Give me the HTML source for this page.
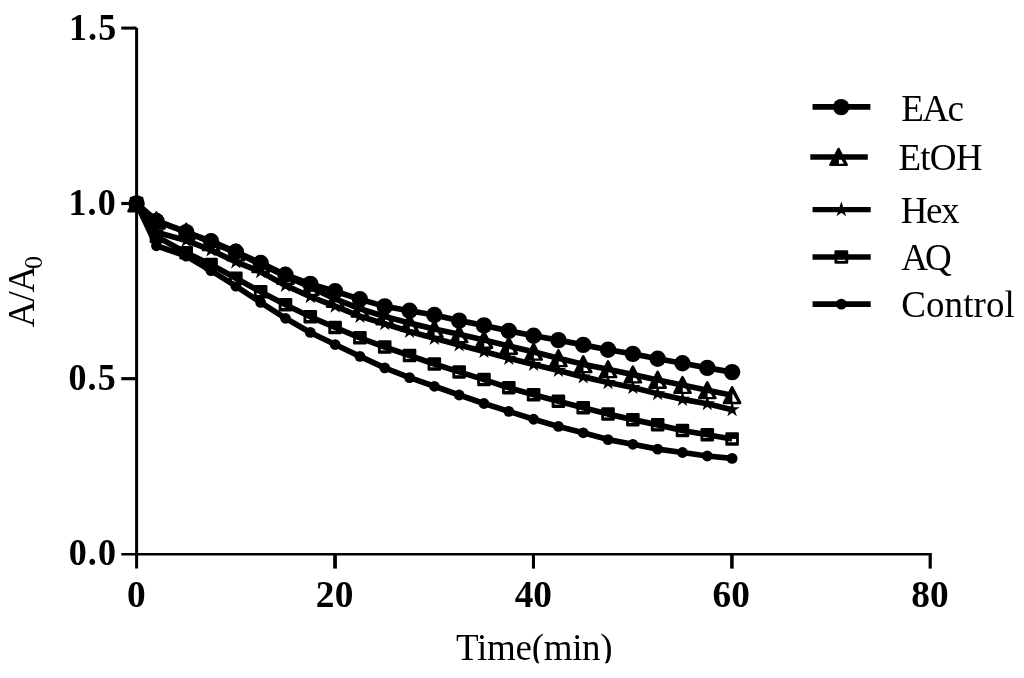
<!DOCTYPE html>
<html lang="en">
<head>
<meta charset="utf-8">
<title>A/A0 vs Time</title>
<style>
html,body{margin:0;padding:0;background:#fff;}
body{width:1024px;height:678px;overflow:hidden;}
svg{display:block;}
svg text{font-family:"Liberation Serif", "Times New Roman", Times, serif;}
</style>
</head>
<body>
<svg width="1024" height="678" viewBox="0 0 1024 678">
<rect width="1024" height="678" fill="#fff"/>
<g><circle cx="136.6" cy="203.53" r="5.4"/>
<circle cx="156.45" cy="245.79" r="5.4"/>
<circle cx="186.22" cy="256.06" r="5.4"/>
<circle cx="211.04" cy="270.68" r="5.4"/>
<circle cx="235.85" cy="286.11" r="5.4"/>
<circle cx="260.66" cy="302.45" r="5.4"/>
<circle cx="285.48" cy="318.3" r="5.4"/>
<circle cx="310.29" cy="332.44" r="5.4"/>
<circle cx="335.1" cy="344.53" r="5.4"/>
<circle cx="359.91" cy="356.35" r="5.4"/>
<circle cx="384.73" cy="367.82" r="5.4"/>
<circle cx="409.54" cy="377.57" r="5.4"/>
<circle cx="434.35" cy="386.3" r="5.4"/>
<circle cx="459.16" cy="395" r="5.4"/>
<circle cx="483.98" cy="403.52" r="5.4"/>
<circle cx="508.79" cy="411.37" r="5.4"/>
<circle cx="533.6" cy="419.23" r="5.4"/>
<circle cx="558.41" cy="426.42" r="5.4"/>
<circle cx="583.23" cy="432.8" r="5.4"/>
<circle cx="608.04" cy="439.6" r="5.4"/>
<circle cx="632.85" cy="444.3" r="5.4"/>
<circle cx="657.66" cy="449.14" r="5.4"/>
<circle cx="682.48" cy="452.51" r="5.4"/>
<circle cx="707.29" cy="456.01" r="5.4"/>
<circle cx="732.1" cy="458.4" r="5.4"/></g>
<g><rect x="129.8" y="196.78" width="13.6" height="13.5" rx="1.3" fill="#000"/>
<rect x="132.65" y="203.53" width="7.9" height="3.3" fill="#fff"/>
<rect x="149.65" y="229.74" width="13.6" height="13.5" rx="1.3" fill="#000"/>
<rect x="152.5" y="236.49" width="7.9" height="3.3" fill="#fff"/>
<rect x="179.42" y="246.05" width="13.6" height="13.5" rx="1.3" fill="#000"/>
<rect x="182.27" y="252.8" width="7.9" height="3.3" fill="#fff"/>
<rect x="204.24" y="257.8" width="13.6" height="13.5" rx="1.3" fill="#000"/>
<rect x="207.09" y="264.55" width="7.9" height="3.3" fill="#fff"/>
<rect x="229.05" y="271.51" width="13.6" height="13.5" rx="1.3" fill="#000"/>
<rect x="231.9" y="278.26" width="7.9" height="3.3" fill="#fff"/>
<rect x="253.86" y="284.94" width="13.6" height="13.5" rx="1.3" fill="#000"/>
<rect x="256.71" y="291.69" width="7.9" height="3.3" fill="#fff"/>
<rect x="278.68" y="297.95" width="13.6" height="13.5" rx="1.3" fill="#000"/>
<rect x="281.53" y="304.7" width="7.9" height="3.3" fill="#fff"/>
<rect x="303.49" y="310.01" width="13.6" height="13.5" rx="1.3" fill="#000"/>
<rect x="306.34" y="316.76" width="7.9" height="3.3" fill="#fff"/>
<rect x="328.3" y="320.71" width="13.6" height="13.5" rx="1.3" fill="#000"/>
<rect x="331.15" y="327.46" width="7.9" height="3.3" fill="#fff"/>
<rect x="353.11" y="331.05" width="13.6" height="13.5" rx="1.3" fill="#000"/>
<rect x="355.96" y="337.8" width="7.9" height="3.3" fill="#fff"/>
<rect x="377.93" y="340.27" width="13.6" height="13.5" rx="1.3" fill="#000"/>
<rect x="380.78" y="347.02" width="7.9" height="3.3" fill="#fff"/>
<rect x="402.74" y="348.73" width="13.6" height="13.5" rx="1.3" fill="#000"/>
<rect x="405.59" y="355.48" width="7.9" height="3.3" fill="#fff"/>
<rect x="427.55" y="357.21" width="13.6" height="13.5" rx="1.3" fill="#000"/>
<rect x="430.4" y="363.96" width="7.9" height="3.3" fill="#fff"/>
<rect x="452.36" y="365.14" width="13.6" height="13.5" rx="1.3" fill="#000"/>
<rect x="455.21" y="371.89" width="7.9" height="3.3" fill="#fff"/>
<rect x="477.18" y="372.85" width="13.6" height="13.5" rx="1.3" fill="#000"/>
<rect x="480.03" y="379.6" width="7.9" height="3.3" fill="#fff"/>
<rect x="501.99" y="380.92" width="13.6" height="13.5" rx="1.3" fill="#000"/>
<rect x="504.84" y="387.67" width="7.9" height="3.3" fill="#fff"/>
<rect x="526.8" y="387.93" width="13.6" height="13.5" rx="1.3" fill="#000"/>
<rect x="529.65" y="394.68" width="7.9" height="3.3" fill="#fff"/>
<rect x="551.61" y="394.56" width="13.6" height="13.5" rx="1.3" fill="#000"/>
<rect x="554.46" y="401.31" width="7.9" height="3.3" fill="#fff"/>
<rect x="576.43" y="401.01" width="13.6" height="13.5" rx="1.3" fill="#000"/>
<rect x="579.28" y="407.76" width="7.9" height="3.3" fill="#fff"/>
<rect x="601.24" y="407.36" width="13.6" height="13.5" rx="1.3" fill="#000"/>
<rect x="604.09" y="414.11" width="7.9" height="3.3" fill="#fff"/>
<rect x="626.05" y="412.9" width="13.6" height="13.5" rx="1.3" fill="#000"/>
<rect x="628.9" y="419.65" width="7.9" height="3.3" fill="#fff"/>
<rect x="650.86" y="418.12" width="13.6" height="13.5" rx="1.3" fill="#000"/>
<rect x="653.71" y="424.87" width="7.9" height="3.3" fill="#fff"/>
<rect x="675.68" y="423.77" width="13.6" height="13.5" rx="1.3" fill="#000"/>
<rect x="678.53" y="430.52" width="7.9" height="3.3" fill="#fff"/>
<rect x="700.49" y="427.94" width="13.6" height="13.5" rx="1.3" fill="#000"/>
<rect x="703.34" y="434.69" width="7.9" height="3.3" fill="#fff"/>
<rect x="725.3" y="432.22" width="13.6" height="13.5" rx="1.3" fill="#000"/>
<rect x="728.15" y="438.97" width="7.9" height="3.3" fill="#fff"/></g>
<g><polygon points="136.6,195.43 138.42,201.03 144.3,201.03 139.54,204.49 141.36,210.08 136.6,206.62 131.84,210.08 133.66,204.49 128.9,201.03 134.78,201.03"/>
<polygon points="156.45,224.18 158.27,229.78 164.15,229.78 159.39,233.24 161.21,238.84 156.45,235.38 151.69,238.84 153.51,233.24 148.75,229.78 154.63,229.78"/>
<polygon points="186.22,232.43 188.04,238.02 193.93,238.02 189.17,241.48 190.99,247.08 186.22,243.62 181.46,247.08 183.28,241.48 178.52,238.02 184.41,238.02"/>
<polygon points="211.04,241.96 212.86,247.56 218.74,247.56 213.98,251.02 215.8,256.62 211.04,253.16 206.28,256.62 208.09,251.02 203.33,247.56 209.22,247.56"/>
<polygon points="235.85,253.78 237.67,259.38 243.55,259.38 238.79,262.84 240.61,268.43 235.85,264.98 231.09,268.43 232.91,262.84 228.15,259.38 234.03,259.38"/>
<polygon points="260.66,263.67 262.48,269.27 268.37,269.27 263.61,272.73 265.42,278.32 260.66,274.86 255.9,278.32 257.72,272.73 252.96,269.27 258.84,269.27"/>
<polygon points="285.48,277.28 287.29,282.87 293.18,282.87 288.42,286.33 290.24,291.93 285.48,288.47 280.71,291.93 282.53,286.33 277.77,282.87 283.66,282.87"/>
<polygon points="310.29,288.5 312.11,294.09 317.99,294.09 313.23,297.55 315.05,303.15 310.29,299.69 305.53,303.15 307.34,297.55 302.58,294.09 308.47,294.09"/>
<polygon points="335.1,298.07 336.92,303.67 342.8,303.67 338.04,307.13 339.86,312.72 335.1,309.27 330.34,312.72 332.16,307.13 327.4,303.67 333.28,303.67"/>
<polygon points="359.91,308.24 361.73,313.84 367.62,313.84 362.86,317.3 364.67,322.89 359.91,319.43 355.15,322.89 356.97,317.3 352.21,313.84 358.09,313.84"/>
<polygon points="384.73,315.64 386.54,321.24 392.43,321.24 387.67,324.7 389.49,330.29 384.73,326.83 379.96,330.29 381.78,324.7 377.02,321.24 382.91,321.24"/>
<polygon points="409.54,323.42 411.36,329.02 417.24,329.02 412.48,332.48 414.3,338.08 409.54,334.62 404.78,338.08 406.59,332.48 401.83,329.02 407.72,329.02"/>
<polygon points="434.35,330.23 436.17,335.82 442.05,335.82 437.29,339.28 439.11,344.88 434.35,341.42 429.59,344.88 431.41,339.28 426.65,335.82 432.53,335.82"/>
<polygon points="459.16,336.82 460.98,342.42 466.87,342.42 462.11,345.88 463.92,351.47 459.16,348.01 454.4,351.47 456.22,345.88 451.46,342.42 457.34,342.42"/>
<polygon points="483.98,343.45 485.79,349.04 491.68,349.04 486.92,352.5 488.74,358.1 483.98,354.64 479.21,358.1 481.03,352.5 476.27,349.04 482.16,349.04"/>
<polygon points="508.79,350.25 510.61,355.85 516.49,355.85 511.73,359.31 513.55,364.9 508.79,361.45 504.03,364.9 505.84,359.31 501.08,355.85 506.97,355.85"/>
<polygon points="533.6,356.42 535.42,362.02 541.3,362.02 536.54,365.48 538.36,371.08 533.6,367.62 528.84,371.08 530.66,365.48 525.9,362.02 531.78,362.02"/>
<polygon points="558.41,362.31 560.23,367.91 566.12,367.91 561.36,371.37 563.17,376.97 558.41,373.51 553.65,376.97 555.47,371.37 550.71,367.91 556.59,367.91"/>
<polygon points="583.23,368.8 585.04,374.4 590.93,374.4 586.17,377.86 587.99,383.45 583.23,380 578.46,383.45 580.28,377.86 575.52,374.4 581.41,374.4"/>
<polygon points="608.04,374.48 609.86,380.08 615.74,380.08 610.98,383.54 612.8,389.14 608.04,385.68 603.28,389.14 605.09,383.54 600.33,380.08 606.22,380.08"/>
<polygon points="632.85,379.46 634.67,385.06 640.55,385.06 635.79,388.52 637.61,394.11 632.85,390.66 628.09,394.11 629.91,388.52 625.15,385.06 631.03,385.06"/>
<polygon points="657.66,385.56 659.48,391.16 665.37,391.16 660.61,394.62 662.42,400.22 657.66,396.76 652.9,400.22 654.72,394.62 649.96,391.16 655.84,391.16"/>
<polygon points="682.48,391.24 684.29,396.84 690.18,396.84 685.42,400.3 687.24,405.9 682.48,402.44 677.71,405.9 679.53,400.3 674.77,396.84 680.66,396.84"/>
<polygon points="707.29,395.66 709.11,401.26 714.99,401.26 710.23,404.72 712.05,410.32 707.29,406.86 702.53,410.32 704.34,404.72 699.58,401.26 705.47,401.26"/>
<polygon points="732.1,401.55 733.92,407.15 739.8,407.15 735.04,410.61 736.86,416.21 732.1,412.75 727.34,416.21 729.16,410.61 724.4,407.15 730.28,407.15"/></g>
<g><polygon points="136.6,195.53 144.7,211.23 128.5,211.23" fill="#000" stroke="#000" stroke-width="2.6" stroke-linejoin="round"/>
<polygon points="136.9,201.33 141.8,210.13 136.9,210.13" fill="#fff"/>
<polygon points="156.45,212.71 164.55,228.41 148.35,228.41" fill="#000" stroke="#000" stroke-width="2.6" stroke-linejoin="round"/>
<polygon points="156.75,218.51 161.65,227.31 156.75,227.31" fill="#fff"/>
<polygon points="186.22,223.93 194.32,239.63 178.12,239.63" fill="#000" stroke="#000" stroke-width="2.6" stroke-linejoin="round"/>
<polygon points="186.53,229.73 191.42,238.53 186.53,238.53" fill="#fff"/>
<polygon points="211.04,234.35 219.14,250.05 202.94,250.05" fill="#000" stroke="#000" stroke-width="2.6" stroke-linejoin="round"/>
<polygon points="211.34,240.15 216.24,248.95 211.34,248.95" fill="#fff"/>
<polygon points="235.85,244.62 243.95,260.32 227.75,260.32" fill="#000" stroke="#000" stroke-width="2.6" stroke-linejoin="round"/>
<polygon points="236.15,250.42 241.05,259.22 236.15,259.22" fill="#fff"/>
<polygon points="260.66,256.3 268.76,272 252.56,272" fill="#000" stroke="#000" stroke-width="2.6" stroke-linejoin="round"/>
<polygon points="260.96,262.1 265.86,270.9 260.96,270.9" fill="#fff"/>
<polygon points="285.48,267.91 293.58,283.61 277.38,283.61" fill="#000" stroke="#000" stroke-width="2.6" stroke-linejoin="round"/>
<polygon points="285.78,273.71 290.68,282.51 285.78,282.51" fill="#fff"/>
<polygon points="310.29,279.09 318.39,294.79 302.19,294.79" fill="#000" stroke="#000" stroke-width="2.6" stroke-linejoin="round"/>
<polygon points="310.59,284.89 315.49,293.69 310.59,293.69" fill="#fff"/>
<polygon points="335.1,290.91 343.2,306.61 327,306.61" fill="#000" stroke="#000" stroke-width="2.6" stroke-linejoin="round"/>
<polygon points="335.4,296.71 340.3,305.51 335.4,305.51" fill="#fff"/>
<polygon points="359.91,300.73 368.01,316.43 351.81,316.43" fill="#000" stroke="#000" stroke-width="2.6" stroke-linejoin="round"/>
<polygon points="360.21,306.53 365.11,315.33 360.21,315.33" fill="#fff"/>
<polygon points="384.73,308.45 392.83,324.15 376.62,324.15" fill="#000" stroke="#000" stroke-width="2.6" stroke-linejoin="round"/>
<polygon points="385.03,314.25 389.93,323.05 385.03,323.05" fill="#fff"/>
<polygon points="409.54,315.11 417.64,330.81 401.44,330.81" fill="#000" stroke="#000" stroke-width="2.6" stroke-linejoin="round"/>
<polygon points="409.84,320.91 414.74,329.71 409.84,329.71" fill="#fff"/>
<polygon points="434.35,321.07 442.45,336.77 426.25,336.77" fill="#000" stroke="#000" stroke-width="2.6" stroke-linejoin="round"/>
<polygon points="434.65,326.87 439.55,335.67 434.65,335.67" fill="#fff"/>
<polygon points="459.16,326.33 467.26,342.03 451.06,342.03" fill="#000" stroke="#000" stroke-width="2.6" stroke-linejoin="round"/>
<polygon points="459.46,332.13 464.36,340.93 459.46,340.93" fill="#fff"/>
<polygon points="483.98,331.94 492.08,347.64 475.88,347.64" fill="#000" stroke="#000" stroke-width="2.6" stroke-linejoin="round"/>
<polygon points="484.28,337.74 489.18,346.54 484.28,346.54" fill="#fff"/>
<polygon points="508.79,337.9 516.89,353.6 500.69,353.6" fill="#000" stroke="#000" stroke-width="2.6" stroke-linejoin="round"/>
<polygon points="509.09,343.7 513.99,352.5 509.09,352.5" fill="#fff"/>
<polygon points="533.6,343.86 541.7,359.56 525.5,359.56" fill="#000" stroke="#000" stroke-width="2.6" stroke-linejoin="round"/>
<polygon points="533.9,349.66 538.8,358.46 533.9,358.46" fill="#fff"/>
<polygon points="558.41,350.28 566.51,365.98 550.31,365.98" fill="#000" stroke="#000" stroke-width="2.6" stroke-linejoin="round"/>
<polygon points="558.71,356.08 563.61,364.88 558.71,364.88" fill="#fff"/>
<polygon points="583.23,356.35 591.33,372.05 575.12,372.05" fill="#000" stroke="#000" stroke-width="2.6" stroke-linejoin="round"/>
<polygon points="583.52,362.15 588.43,370.95 583.52,370.95" fill="#fff"/>
<polygon points="608.04,361.29 616.14,376.99 599.94,376.99" fill="#000" stroke="#000" stroke-width="2.6" stroke-linejoin="round"/>
<polygon points="608.34,367.09 613.24,375.89 608.34,375.89" fill="#fff"/>
<polygon points="632.85,366.62 640.95,382.32 624.75,382.32" fill="#000" stroke="#000" stroke-width="2.6" stroke-linejoin="round"/>
<polygon points="633.15,372.42 638.05,381.22 633.15,381.22" fill="#fff"/>
<polygon points="657.66,371.95 665.76,387.65 649.56,387.65" fill="#000" stroke="#000" stroke-width="2.6" stroke-linejoin="round"/>
<polygon points="657.96,377.75 662.86,386.55 657.96,386.55" fill="#fff"/>
<polygon points="682.48,377.07 690.58,392.77 674.38,392.77" fill="#000" stroke="#000" stroke-width="2.6" stroke-linejoin="round"/>
<polygon points="682.77,382.87 687.68,391.67 682.77,391.67" fill="#fff"/>
<polygon points="707.29,382.3 715.39,398 699.19,398" fill="#000" stroke="#000" stroke-width="2.6" stroke-linejoin="round"/>
<polygon points="707.59,388.1 712.49,396.9 707.59,396.9" fill="#fff"/>
<polygon points="732.1,387.24 740.2,402.94 724,402.94" fill="#000" stroke="#000" stroke-width="2.6" stroke-linejoin="round"/>
<polygon points="732.4,393.04 737.3,401.84 732.4,401.84" fill="#fff"/></g>
<g><circle cx="136.6" cy="203.53" r="8.2"/>
<circle cx="156.45" cy="221.06" r="8.2"/>
<circle cx="186.22" cy="232.11" r="8.2"/>
<circle cx="211.04" cy="241.19" r="8.2"/>
<circle cx="235.85" cy="251.75" r="8.2"/>
<circle cx="260.66" cy="262.97" r="8.2"/>
<circle cx="285.48" cy="274.72" r="8.2"/>
<circle cx="310.29" cy="283.9" r="8.2"/>
<circle cx="335.1" cy="291.2" r="8.2"/>
<circle cx="359.91" cy="299.26" r="8.2"/>
<circle cx="384.73" cy="306.38" r="8.2"/>
<circle cx="409.54" cy="310.76" r="8.2"/>
<circle cx="434.35" cy="315.04" r="8.2"/>
<circle cx="459.16" cy="320.65" r="8.2"/>
<circle cx="483.98" cy="325.42" r="8.2"/>
<circle cx="508.79" cy="330.89" r="8.2"/>
<circle cx="533.6" cy="335.77" r="8.2"/>
<circle cx="558.41" cy="340.12" r="8.2"/>
<circle cx="583.23" cy="344.92" r="8.2"/>
<circle cx="608.04" cy="349.69" r="8.2"/>
<circle cx="632.85" cy="353.86" r="8.2"/>
<circle cx="657.66" cy="358.7" r="8.2"/>
<circle cx="682.48" cy="363.23" r="8.2"/>
<circle cx="707.29" cy="367.89" r="8.2"/>
<circle cx="732.1" cy="372.13" r="8.2"/></g>
<polyline fill="none" stroke="#000" stroke-width="5.7" stroke-linejoin="round" points="136.6,203.53 156.45,245.79 186.22,256.06 211.04,270.68 235.85,286.11 260.66,302.45 285.48,318.3 310.29,332.44 335.1,344.53 359.91,356.35 384.73,367.82 409.54,377.57 434.35,386.3 459.16,395 483.98,403.52 508.79,411.37 533.6,419.23 558.41,426.42 583.23,432.8 608.04,439.6 632.85,444.3 657.66,449.14 682.48,452.51 707.29,456.01 732.1,458.4"/>
<polyline fill="none" stroke="#000" stroke-width="5.7" stroke-linejoin="round" points="136.6,203.53 156.45,236.49 186.22,252.8 211.04,264.55 235.85,278.26 260.66,291.69 285.48,304.7 310.29,316.76 335.1,327.46 359.91,337.8 384.73,347.02 409.54,355.48 434.35,363.96 459.16,371.89 483.98,379.6 508.79,387.67 533.6,394.68 558.41,401.31 583.23,407.76 608.04,414.11 632.85,419.65 657.66,424.87 682.48,430.52 707.29,434.69 732.1,438.97"/>
<polyline fill="none" stroke="#000" stroke-width="5.7" stroke-linejoin="round" points="136.6,203.53 156.45,232.28 186.22,240.53 211.04,250.06 235.85,261.88 260.66,271.77 285.48,285.38 310.29,296.6 335.1,306.17 359.91,316.34 384.73,323.74 409.54,331.52 434.35,338.33 459.16,344.92 483.98,351.55 508.79,358.35 533.6,364.52 558.41,370.41 583.23,376.9 608.04,382.58 632.85,387.56 657.66,393.66 682.48,399.34 707.29,403.76 732.1,409.65"/>
<polyline fill="none" stroke="#000" stroke-width="5.7" stroke-linejoin="round" points="136.6,203.53 156.45,220.71 186.22,231.93 211.04,242.35 235.85,252.62 260.66,264.3 285.48,275.91 310.29,287.09 335.1,298.91 359.91,308.73 384.73,316.45 409.54,323.11 434.35,329.07 459.16,334.33 483.98,339.94 508.79,345.9 533.6,351.86 558.41,358.28 583.23,364.35 608.04,369.29 632.85,374.62 657.66,379.95 682.48,385.07 707.29,390.3 732.1,395.24"/>
<polyline fill="none" stroke="#000" stroke-width="5.7" stroke-linejoin="round" points="136.6,203.53 156.45,221.06 186.22,232.11 211.04,241.19 235.85,251.75 260.66,262.97 285.48,274.72 310.29,283.9 335.1,291.2 359.91,299.26 384.73,306.38 409.54,310.76 434.35,315.04 459.16,320.65 483.98,325.42 508.79,330.89 533.6,335.77 558.41,340.12 583.23,344.92 608.04,349.69 632.85,353.86 657.66,358.7 682.48,363.23 707.29,367.89 732.1,372.13"/>
<g stroke="#000" fill="none" stroke-linecap="butt">
<path d="M136.6 27.9 V568.6" stroke-width="3"/>
<path d="M121.3 554.14 H931.8" stroke-width="2.5"/>
<path d="M121.3 28.08 H136.6" stroke-width="3.1"/>
<path d="M121.3 203.5 H136.6" stroke-width="3.2"/>
<path d="M121.3 378.67 H136.6" stroke-width="3.2"/>
<path d="M335.03 554.14 V568.6" stroke-width="3.75"/>
<path d="M533.45 554.14 V568.6" stroke-width="3.1"/>
<path d="M731.9 554.14 V568.6" stroke-width="3.6"/>
<path d="M930.2 554.14 V568.6" stroke-width="3.2"/>
</g>
<g font-family="'Liberation Serif', serif" font-weight="bold" fill="#000">
<text transform="translate(117.05 564.94) scale(0.95 1)" font-size="37.9" letter-spacing="1.2" text-anchor="end">0.0</text>
<text transform="translate(116.85 389.67) scale(0.95 1)" font-size="37.9" letter-spacing="1.2" text-anchor="end">0.5</text>
<text transform="translate(116.85 214.5) scale(0.95 1)" font-size="37.9" letter-spacing="1.2" text-anchor="end">1.0</text>
<text transform="translate(117.35 39.63) scale(0.95 1)" font-size="37.9" letter-spacing="1.2" text-anchor="end">1.5</text>
<text transform="translate(136.4 607.4) scale(0.96 1)" font-size="38.9" text-anchor="middle" letter-spacing="0">0</text>
<text transform="translate(334.69 607.4) scale(0.96 1)" font-size="38.9" text-anchor="middle" letter-spacing="0.3">20</text>
<text transform="translate(533.14 607.4) scale(0.96 1)" font-size="38.9" text-anchor="middle" letter-spacing="-0.3">40</text>
<text transform="translate(731.2 607.4) scale(0.96 1)" font-size="38.9" text-anchor="middle" letter-spacing="0">60</text>
<text transform="translate(929.9 607.4) scale(0.96 1)" font-size="38.9" text-anchor="middle" letter-spacing="0">80</text>
</g>
<g font-family="'Liberation Serif', serif" font-size="37" fill="#000">
<clipPath id="xtclip"><rect x="430" y="620" width="220" height="43.2"/></clipPath>
<text x="534.2" y="660.4" text-anchor="middle" letter-spacing="-0.3" clip-path="url(#xtclip)">Time(min)</text>
<text transform="translate(33.65 291.5) rotate(-90)"><tspan x="-35.65">A</tspan><tspan x="-10.1">/</tspan><tspan x="-1.1">A</tspan><tspan x="22.6" font-size="26" dy="8">0</tspan></text>
<text x="901.3" y="120.65" letter-spacing="-1.6">EAc</text>
<text x="898.5" y="170.35" letter-spacing="-0.8">EtOH</text>
<text x="900.8" y="222.65" letter-spacing="-1.45">Hex</text>
<text x="901.3" y="270.25" letter-spacing="-3">AQ</text>
<text x="901.2" y="317.35" letter-spacing="0.1">Control</text>
</g>
<path d="M812.55 106.9 H870.4" stroke="#000" stroke-width="5.8" fill="none"/>
<circle cx="841.17" cy="107.1" r="8.2"/>
<polygon points="838.55,149.03 846.65,164.73 830.45,164.73" fill="#000" stroke="#000" stroke-width="2.6" stroke-linejoin="round"/>
<polygon points="838.85,154.83 843.75,163.63 838.85,163.63" fill="#fff"/>
<path d="M810.3 157.03 H867.8" stroke="#000" stroke-width="5.55" fill="none"/>
<path d="M812.55 209.58 H870.7" stroke="#000" stroke-width="5.15" fill="none"/>
<polygon points="841.33,201.48 843.14,207.08 849.03,207.08 844.27,210.54 846.09,216.13 841.33,212.67 836.56,216.13 838.38,210.54 833.62,207.08 839.51,207.08"/>
<rect x="834.43" y="250.18" width="13.8" height="13.5" rx="1.3" fill="#000"/>
<rect x="837.33" y="256.93" width="8" height="3.95" fill="#fff"/>
<path d="M812.55 256.93 H870.7" stroke="#000" stroke-width="5.55" fill="none"/>
<path d="M812.55 304.15 H870.7" stroke="#000" stroke-width="5.8" fill="none"/>
<circle cx="841.33" cy="304.15" r="5.4"/>
</svg>
</body>
</html>
